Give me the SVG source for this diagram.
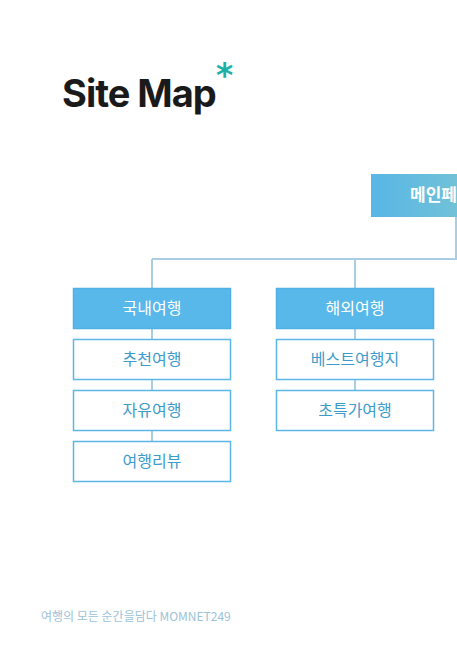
<svg xmlns="http://www.w3.org/2000/svg" width="457" height="645" viewBox="0 0 457 645">
<defs>
<linearGradient id="mg" x1="0" y1="0" x2="1" y2="0">
<stop offset="0" stop-color="#58b6e6"/>
<stop offset="1" stop-color="#72c2d6"/>
</linearGradient>
<style>
.conn{stroke:#a9cde2;stroke-width:2;fill:none}
.cat rect{fill:#58b8ea;stroke:#4fb0e6;stroke-width:1.5}
.cat text{fill:#ffffff;font-family:"Noto Sans CJK KR","Noto Sans",sans-serif;font-size:16px;text-anchor:middle}
.sub rect{fill:#ffffff;stroke:#5cb6e8;stroke-width:1.5}
.sub text{fill:#3d9bcc;font-family:"Noto Sans CJK KR","Noto Sans",sans-serif;font-size:16px;text-anchor:middle}
</style>
</defs>
<rect width="457" height="645" fill="#ffffff"/>
<g id="title">
<text x="62" y="107" font-family="Inter,'Liberation Sans',sans-serif" font-weight="700" font-size="38" fill="#1a1a1a" letter-spacing="-1">Site Map</text>
<text x="216" y="87" font-family="'DejaVu Sans',sans-serif" font-weight="700" font-size="33" fill="#1cb0a6">*</text>
</g>
<g id="connectors">
<path class="conn" d="M456 217 V259 M152 259 H457 M152 259 V288 M355 259 V288 M152 328 V339 M152 380 V390 M152 431 V441 M355 328 V339 M355 380 V390"/>
</g>
<g id="main">
<rect x="371" y="174" width="90" height="43" fill="url(#mg)"/>
<text x="410" y="201" font-family="'Noto Sans CJK KR',sans-serif" font-weight="700" font-size="17" fill="#ffffff">메인페이지</text>
</g>
<g id="domestic" class="cat"><rect x="73.5" y="288.5" width="157" height="40"/><text x="152" y="314">국내여행</text></g>
<g id="recommend" class="sub"><rect x="73.5" y="339.5" width="157" height="40"/><text x="152" y="365">추천여행</text></g>
<g id="free" class="sub"><rect x="73.5" y="390.5" width="157" height="40"/><text x="152" y="416">자유여행</text></g>
<g id="review" class="sub"><rect x="73.5" y="441.5" width="157" height="40"/><text x="152" y="467">여행리뷰</text></g>
<g id="overseas" class="cat"><rect x="276.5" y="288.5" width="157" height="40"/><text x="355" y="314">해외여행</text></g>
<g id="best" class="sub"><rect x="276.5" y="339.5" width="157" height="40"/><text x="355" y="365">베스트여행지</text></g>
<g id="special" class="sub"><rect x="276.5" y="390.5" width="157" height="40"/><text x="355" y="416">초특가여행</text></g>
<g id="footer">
<text x="41" y="621" font-family="'Noto Sans CJK KR','Noto Sans',sans-serif" font-size="12" fill="#9dc2d8">여행의 모든 순간을담다 MOMNET249</text>
</g>
</svg>
